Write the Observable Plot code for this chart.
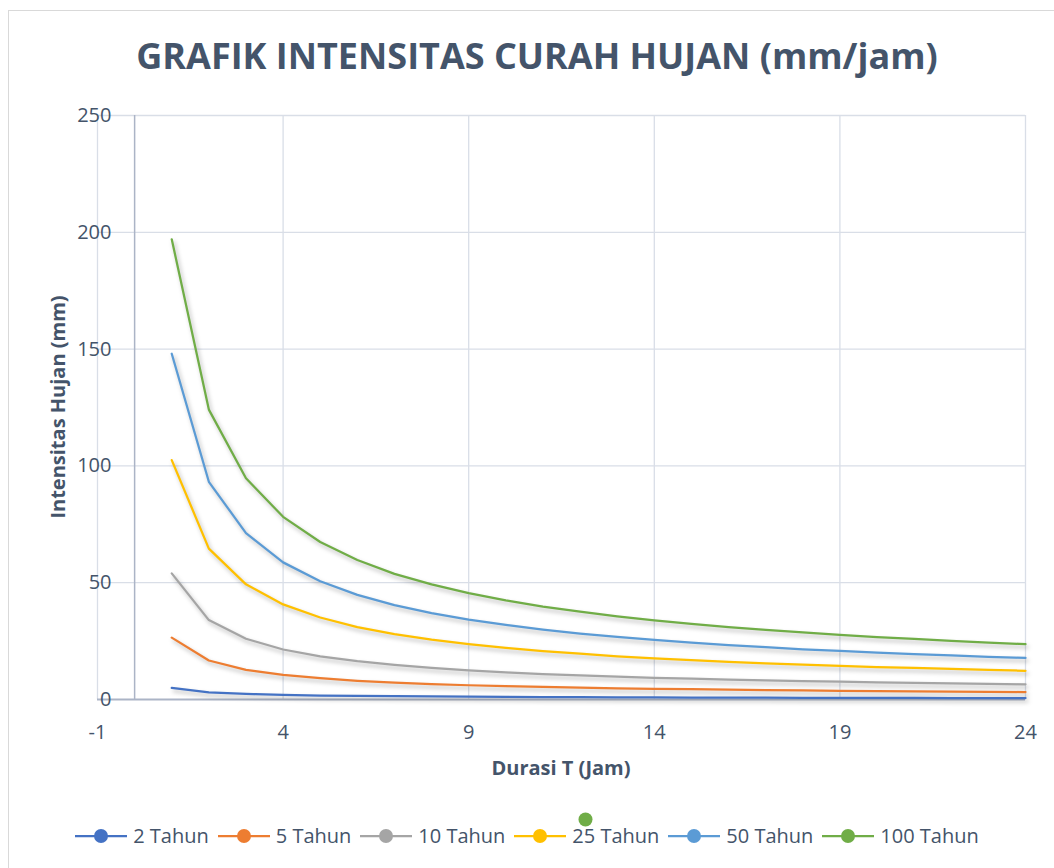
<!DOCTYPE html>
<html>
<head>
<meta charset="utf-8">
<script src="https://cdn.jsdelivr.net/npm/d3@7"></script>
<script src="https://cdn.jsdelivr.net/npm/@observablehq/plot@0.6"></script>
<style>
  html, body { margin: 0; padding: 0; background: #fff; overflow: hidden; }
  #wrap { position: relative; width: 1054px; height: 868px; font-family: "Open Sans", sans-serif; color: #44546A; }
  #frame { position: absolute; left: 8px; top: 10px; width: 1100px; height: 900px; border: 1px solid #D9D9D9; box-sizing: border-box; }
  #title { position: absolute; left: 0; width: 1074px; top: 32px; text-align: center; font-size: 36px; font-weight: 700; line-height: 48px; white-space: nowrap; }
  #chart { position: absolute; left: 0; top: 0; }
  #xlabel { position: absolute; left: 0; width: 1122px; top: 755px; text-align: center; font-size: 20px; font-weight: 700; line-height: 26px; }
  #ylabel { position: absolute; left: 58px; top: 407px; transform: translate(-50%, -50%) rotate(-90deg); font-size: 20px; font-weight: 700; white-space: nowrap; line-height: 26px; }
  #legend { position: absolute; left: 0; width: 1054px; top: 823px; display: flex; justify-content: center; align-items: center; gap: 9px; font-size: 20px; line-height: 26px; }
  .item { display: flex; align-items: center; gap: 6px; white-space: nowrap; }
  .item svg { display: block; }
  #stray { position: absolute; left: 578px; top: 811px; }
</style>
</head>
<body>
<div id="wrap">
  <div id="frame"></div>
  <div id="chart"></div>
  <div id="title">GRAFIK INTENSITAS CURAH HUJAN (mm/jam)</div>
  <div id="xlabel">Durasi T (Jam)</div>
  <div id="ylabel">Intensitas Hujan (mm)</div>
  <div id="legend"></div>
</div>
<script>
// Durations (hours)
const durasi = [1,2,3,4,5,6,7,8,9,10,11,12,13,14,15,16,17,18,19,20,21,22,23,24];

// Rainfall intensity (mm/jam) per return period
const tahun2   = [5.0,3.1,2.4,2.0,1.7,1.5,1.4,1.3,1.2,1.1,1.0,1.0,0.9,0.9,0.8,0.8,0.8,0.7,0.7,0.7,0.7,0.6,0.6,0.6];
const tahun5   = [26.5,16.7,12.7,10.5,9.1,8.0,7.2,6.6,6.1,5.7,5.4,5.1,4.8,4.6,4.4,4.2,4.0,3.9,3.7,3.6,3.5,3.4,3.3,3.2];
const tahun10  = [54.0,34.0,26.0,21.4,18.5,16.4,14.8,13.5,12.5,11.6,10.9,10.3,9.8,9.3,8.9,8.5,8.2,7.9,7.6,7.3,7.1,6.9,6.7,6.5];
const tahun25  = [102.5,64.6,49.3,40.7,35.1,31.0,28.0,25.6,23.7,22.1,20.7,19.6,18.5,17.6,16.9,16.1,15.5,14.9,14.4,13.9,13.5,13.1,12.7,12.3];
const tahun50  = [148.0,93.2,71.2,58.7,50.6,44.8,40.4,37.0,34.2,31.9,29.9,28.2,26.8,25.5,24.3,23.3,22.4,21.5,20.8,20.1,19.4,18.9,18.3,17.8];
const tahun100 = [197.0,124.1,94.7,78.2,67.4,59.7,53.8,49.3,45.5,42.4,39.8,37.6,35.6,33.9,32.4,31.0,29.8,28.7,27.7,26.7,25.9,25.1,24.4,23.7];

const seriesNames = ["2 Tahun","5 Tahun","10 Tahun","25 Tahun","50 Tahun","100 Tahun"];
const seriesColors = ["#4472C4","#ED7D31","#A5A5A5","#FFC000","#5B9BD5","#70AD47"];
const xTicks = [-1,4,9,14,19,24];
const yTicks = [0,50,100,150,200,250];

const seriesValues = [tahun2, tahun5, tahun10, tahun25, tahun50, tahun100];
const rows = seriesValues.flatMap((vals, i) =>
  vals.map((v, j) => ({ durasi: durasi[j], intensitas: v, series: seriesNames[i] })));

const chart = Plot.plot({
  width: 1054,
  height: 780,
  marginLeft: 97,
  marginRight: 29,
  marginTop: 115,
  marginBottom: 81,
  x: { domain: [-1, 24] },
  y: { domain: [0, 250] },
  color: { domain: seriesNames, range: seriesColors },
  style: { fontFamily: "'Open Sans', sans-serif", fontSize: "20px", color: "#44546A", background: "transparent", overflow: "visible" },
  marks: [
    Plot.ruleX(xTicks, { stroke: "#D9DEE7", strokeWidth: 1.3 }),
    Plot.ruleY(yTicks.filter(d => d > 0), { stroke: "#D9DEE7", strokeWidth: 1.3 }),
    Plot.ruleX([0], { stroke: "#ABB4C6", strokeWidth: 1.5 }),
    Plot.ruleY([0], { stroke: "#ABB4C6", strokeWidth: 2 }),
    Plot.line(rows, { x: "durasi", y: "intensitas", z: "series", stroke: "series", strokeWidth: 2.25 }),
    Plot.axisX({ ticks: xTicks, tickSize: 0, tickPadding: 25, label: null, fontSize: 20, tickFormat: d => String(d) }),
    Plot.axisY({ ticks: yTicks, tickSize: 0, tickPadding: 0, dx: 14, label: null, fontSize: 20, tickFormat: d => String(d) })
  ]
});
document.getElementById("chart").appendChild(chart);
chart.querySelectorAll('g[aria-label="line"]').forEach(g => {
  g.style.filter = "drop-shadow(2px 3px 2px rgba(0,0,0,0.28))";
});

// Legend
const legend = document.getElementById("legend");
seriesNames.forEach((name, i) => {
  const item = document.createElement("div");
  item.className = "item";
  const c = seriesColors[i];
  item.innerHTML = `<svg width="52" height="16" viewBox="0 0 52 16">
      <line x1="0" y1="8" x2="52" y2="8" stroke="${c}" stroke-width="2.25"/>
      <circle cx="26" cy="8" r="7" fill="${c}"/>
    </svg><span>${name}</span>`;
  legend.appendChild(item);
});
// Stray marker visible above the legend in the reference
const stray = document.createElement("div");
stray.id = "stray";
stray.innerHTML = `<svg width="16" height="16"><circle cx="7.5" cy="7.5" r="7" fill="${seriesColors[5]}"/></svg>`;
document.getElementById("wrap").appendChild(stray);
</script>
</body>
</html>
